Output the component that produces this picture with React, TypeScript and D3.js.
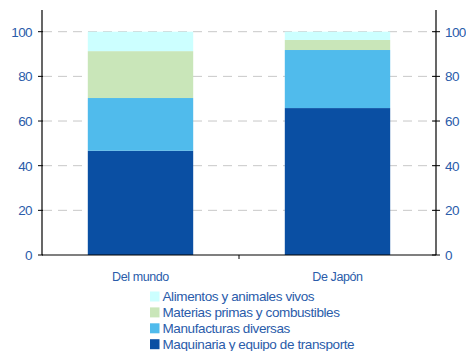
import React from "react";
import * as d3 from "d3";

const categories = ["Del mundo", "De Japón"];
const seriesNames = [
  "Maquinaria y equipo de transporte",
  "Manufacturas diversas",
  "Materias primas y combustibles",
  "Alimentos y animales vivos",
];
const maquinaria = [46.7, 65.8];
const manufacturas = [23.6, 26.0];
const materias = [21.0, 4.5];
const alimentos = [8.7, 3.7];
const yTicks = [0, 20, 40, 60, 80, 100];
const colors = ["#0A4FA3", "#50BBEC", "#C9E6B9", "#CCFFFF"];
const legendOrder = [3, 2, 1, 0];

export default function App() {
  const W = 466, H = 351;
  const left = 42, right = 436, top = 10, bottom = 255;
  const y = d3.scaleLinear().domain([0, 100]).range([bottom, bottom - 223.3]);
  const x = d3.scaleBand().domain(categories).range([left, right]).paddingInner(0.465).paddingOuter(0.2325);
  const rows = categories.map((c, i) => ({
    cat: c,
    s0: maquinaria[i],
    s1: manufacturas[i],
    s2: materias[i],
    s3: alimentos[i],
  }));
  const stack = d3.stack<any>().keys(["s0", "s1", "s2", "s3"]);
  const layers = stack(rows);
  const textColor = "#2A5CAA";
  const font = "Liberation Sans, Arial, sans-serif";

  return (
    <svg width={W} height={H} style={{ position: "absolute", left: 0, top: 0 }} fontFamily={font}>
      <rect width={W} height={H} fill="#fff" />
      {yTicks.filter((t) => t > 0).map((t) => (
        <line key={"g" + t} x1={left + 1} x2={right} y1={y(t)} y2={y(t)} stroke="#C8C8C8" strokeDasharray="9,6" strokeWidth={1} />
      ))}
      {layers.map((layer, li) =>
        layer.map((d, i) => (
          <rect
            key={li + "-" + i}
            x={x(categories[i])}
            width={x.bandwidth()}
            y={y(d[1])}
            height={y(d[0]) - y(d[1])}
            fill={colors[li]}
          />
        ))
      )}
      {/* axes */}
      <line x1={left} x2={left} y1={top} y2={bottom} stroke="#000" strokeWidth={1.2} />
      <line x1={right} x2={right} y1={top} y2={bottom} stroke="#000" strokeWidth={1.2} />
      <line x1={left} x2={right} y1={bottom} y2={bottom} stroke="#000" strokeWidth={1.2} />
      <line x1={(left + right) / 2} x2={(left + right) / 2} y1={bottom} y2={bottom + 4} stroke="#000" />
      {yTicks.map((t) => (
        <g key={"t" + t}>
          <line x1={left - 4} x2={left + 1} y1={y(t)} y2={y(t)} stroke="#000" />
          <line x1={right - 4} x2={right + 4} y1={y(t)} y2={y(t)} stroke="#000" />
          <text x={left - 10} y={y(t)} dy="0.36em" textAnchor="end" fontSize={13.5} fill={textColor} letterSpacing={-0.6}>
            {t}
          </text>
          <text x={right + 9} y={y(t)} dy="0.36em" textAnchor="start" fontSize={13.5} fill={textColor} letterSpacing={-0.6}>
            {t}
          </text>
        </g>
      ))}
      {categories.map((c) => (
        <text key={c} x={(x(c) as number) + x.bandwidth() / 2} y={280.5} textAnchor="middle" fontSize={12.5} fill={textColor} letterSpacing={-0.4}>
          {c}
        </text>
      ))}
      {legendOrder.map((si, k) => (
        <g key={"l" + si} transform={`translate(150, ${291.5 + k * 15.9})`}>
          <rect x={0} y={0} width={9.5} height={10} fill={colors[si]} />
          <text x={12.5} y={4.5} dy="0.36em" fontSize={13.5} fill={textColor} letterSpacing={-0.4}>
            {seriesNames[si]}
          </text>
        </g>
      ))}
    </svg>
  );
}
